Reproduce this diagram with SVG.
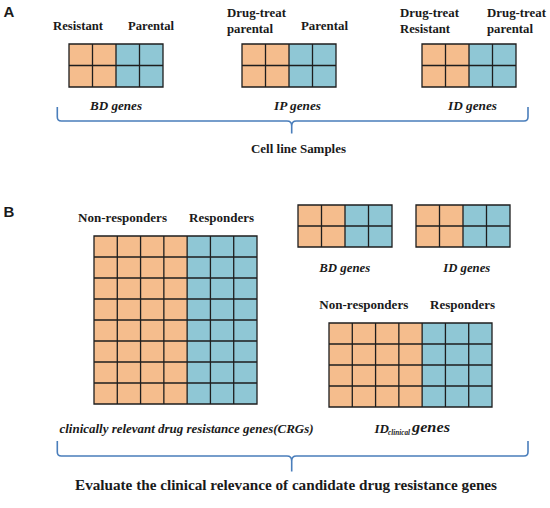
<svg xmlns="http://www.w3.org/2000/svg" width="550" height="508" viewBox="0 0 550 508">
<style>
.lbl{font-family:"Liberation Serif","Times New Roman",serif;font-weight:bold;font-size:13px;fill:#1a1a1a}
.it{font-style:italic}
.pan{font-family:"Liberation Sans",Arial,sans-serif;font-weight:bold;font-size:15px;fill:#1a1a1a}
.o{fill:#F5BD8D}
.b{fill:#8FC7D5}
.g{fill:none;stroke:#1e1e1e;stroke-width:1.3}
.br{fill:none;stroke:#4A7EBB;stroke-width:1.6;stroke-linejoin:round}
</style>
<rect width="550" height="508" fill="#ffffff"/>

<text class="pan" x="3.5" y="17.3">A</text>
<text class="pan" x="3.5" y="217">B</text>

<!-- A: BD grid -->
<g id="gridA_BD">
<rect class="o" x="69" y="44" width="47" height="43"/>
<rect class="b" x="116" y="44" width="47" height="43"/>
<path class="g" d="M69,44H163V87H69Z M69,65.5H163 M92.5,44V87 M116,44V87 M139.5,44V87"/>
<text class="lbl" x="53" y="30" textLength="50" lengthAdjust="spacingAndGlyphs">Resistant</text>
<text class="lbl" x="128" y="30" textLength="46" lengthAdjust="spacingAndGlyphs">Parental</text>
<text class="lbl it" x="90" y="110" textLength="52" lengthAdjust="spacingAndGlyphs">BD genes</text>
</g>

<!-- A: IP grid -->
<g id="gridA_IP">
<rect class="o" x="242" y="44" width="47" height="43"/>
<rect class="b" x="289" y="44" width="47" height="43"/>
<path class="g" d="M242,44H336V87H242Z M242,65.5H336 M265.5,44V87 M289,44V87 M312.5,44V87"/>
<text class="lbl" x="227" y="17" textLength="59" lengthAdjust="spacingAndGlyphs">Drug-treat</text>
<text class="lbl" x="227" y="32.5" textLength="46" lengthAdjust="spacingAndGlyphs">parental</text>
<text class="lbl" x="301" y="30" textLength="47" lengthAdjust="spacingAndGlyphs">Parental</text>
<text class="lbl it" x="274" y="110" textLength="47" lengthAdjust="spacingAndGlyphs">IP genes</text>
</g>

<!-- A: ID grid -->
<g id="gridA_ID">
<rect class="o" x="422" y="44" width="47" height="43"/>
<rect class="b" x="469" y="44" width="47" height="43"/>
<path class="g" d="M422,44H516V87H422Z M422,65.5H516 M445.5,44V87 M469,44V87 M492.5,44V87"/>
<text class="lbl" x="400" y="17" textLength="59" lengthAdjust="spacingAndGlyphs">Drug-treat</text>
<text class="lbl" x="400" y="32.5" textLength="50" lengthAdjust="spacingAndGlyphs">Resistant</text>
<text class="lbl" x="487" y="17" textLength="59" lengthAdjust="spacingAndGlyphs">Drug-treat</text>
<text class="lbl" x="487" y="32.5" textLength="46" lengthAdjust="spacingAndGlyphs">parental</text>
<text class="lbl it" x="448" y="110" textLength="49" lengthAdjust="spacingAndGlyphs">ID genes</text>
</g>

<g id="labelA">
<text class="lbl" x="251" y="153" textLength="95" lengthAdjust="spacingAndGlyphs">Cell line Samples</text>
</g>

<!-- B: big CRG grid -->
<g id="gridB_CRG">
<rect class="o" x="94" y="236" width="93.14" height="168"/>
<rect class="b" x="187.14" y="236" width="69.86" height="168"/>
<path class="g" d="M94,236H257V404H94Z M94,257H257 M94,278H257 M94,299H257 M94,320H257 M94,341H257 M94,362H257 M94,383H257 M117.29,236V404 M140.57,236V404 M163.86,236V404 M187.14,236V404 M210.43,236V404 M233.71,236V404"/>
<text class="lbl" x="78" y="221.7" textLength="89" lengthAdjust="spacingAndGlyphs">Non-responders</text>
<text class="lbl" x="189" y="221.7" textLength="65" lengthAdjust="spacingAndGlyphs">Responders</text>
<text class="lbl it" x="59.5" y="433.3" textLength="254" lengthAdjust="spacingAndGlyphs">clinically relevant drug resistance genes(CRGs)</text>
</g>

<!-- B: small BD grid -->
<g id="gridB_BD">
<rect class="o" x="298" y="205" width="47" height="42"/>
<rect class="b" x="345" y="205" width="47" height="42"/>
<path class="g" d="M298,205H392V247H298Z M298,226H392 M321.5,205V247 M345,205V247 M368.5,205V247"/>
<text class="lbl it" x="319.3" y="271.7" textLength="51" lengthAdjust="spacingAndGlyphs">BD genes</text>
</g>

<!-- B: small ID grid -->
<g id="gridB_ID">
<rect class="o" x="416" y="205" width="47" height="42"/>
<rect class="b" x="463" y="205" width="47" height="42"/>
<path class="g" d="M416,205H510V247H416Z M416,226H510 M439.5,205V247 M463,205V247 M486.5,205V247"/>
<text class="lbl it" x="443.3" y="271.7" textLength="47" lengthAdjust="spacingAndGlyphs">ID genes</text>
</g>

<!-- B: ID clinical grid -->
<g id="gridB_IDclin">
<rect class="o" x="329" y="323" width="93.14" height="84"/>
<rect class="b" x="422.14" y="323" width="69.86" height="84"/>
<path class="g" d="M329,323H492V407H329Z M329,344H492 M329,365H492 M329,386H492 M352.29,323V407 M375.57,323V407 M398.86,323V407 M422.14,323V407 M445.43,323V407 M468.71,323V407"/>
<text class="lbl" x="319.3" y="309" textLength="89" lengthAdjust="spacingAndGlyphs">Non-responders</text>
<text class="lbl" x="430" y="309" textLength="65" lengthAdjust="spacingAndGlyphs">Responders</text>
<text class="lbl it" x="374.5" y="432.5" style="font-size:13px">ID</text>
<text class="lbl it" x="388" y="434.5" style="font-size:8px" textLength="22" lengthAdjust="spacingAndGlyphs">clinical</text>
<text class="lbl it" x="412" y="432.3" style="font-size:14px" textLength="38" lengthAdjust="spacingAndGlyphs">genes</text>
</g>

<g id="labelB">
<text class="lbl" x="75" y="490" style="font-size:15px" textLength="422" lengthAdjust="spacingAndGlyphs">Evaluate the clinical relevance of candidate drug resistance genes</text>
</g>

<!-- connectors: braces -->
<g id="connectors">
<path class="br" d="M57.3,107 V117 Q57.3,121 61.3,121 H287 Q291.7,121 291.7,126 V133.5 M291.7,126 Q291.7,121 296.4,121 H524 Q528,121 528,117 V107"/>
<path class="br" d="M57.3,441 V452 Q57.3,456 61.3,456 H287 Q291.7,456 291.7,461 V471.5 M291.7,461 Q291.7,456 296.4,456 H524 Q528,456 528,452 V441"/>
</g>
</svg>
